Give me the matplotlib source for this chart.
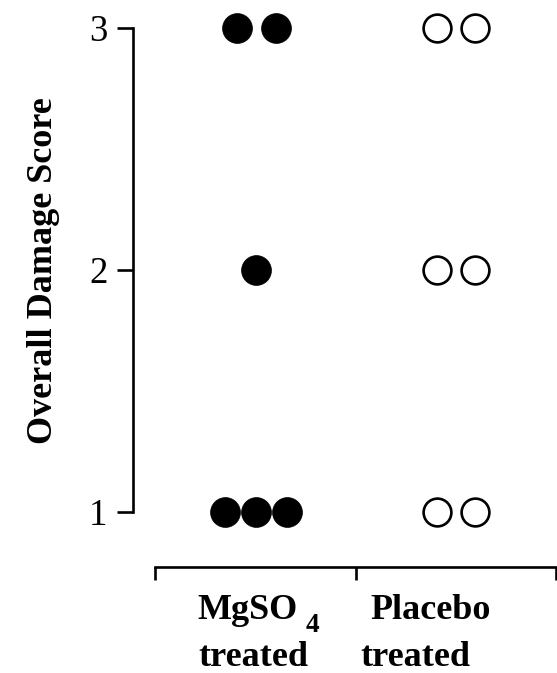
import matplotlib
matplotlib.use("Agg")
import matplotlib.pyplot as plt
import numpy as np

# ---- data ----
groups = ["MgSO", "Placebo"]          # group names (line 1)
group_subscripts = ["4", ""]          # subscript following line 1
group_line2 = ["treated", "treated"]
mg_scores = [3, 3, 2, 1, 1, 1]        # MgSO4 treated (filled)
placebo_scores = [3, 3, 2, 2, 1, 1]   # Placebo treated (open)
y_ticks = [1, 2, 3]
y_label = "Overall Damage Score"

plt.rcParams["font.family"] = ["Liberation Serif", "DejaVu Serif"]

W, H = 557, 673
fig = plt.figure(figsize=(W / 100, H / 100), dpi=100)

def fx(px):
    return px / W

def fy(py):
    return (H - py) / H

# main axes: left spine at x=133, y=3 at py=28, y=1 at py=512
ax = fig.add_axes([fx(133), fy(512), fx(557) - fx(133), fy(28) - fy(512)])
ax.set_ylim(1, 3)
ax.set_xlim(-0.615, 1.505)
for s in ["top", "right", "bottom"]:
    ax.spines[s].set_visible(False)
ax.spines["left"].set_linewidth(1.9)
ax.set_xticks([])
ax.set_yticks(y_ticks)
ax.set_yticklabels([str(t) for t in y_ticks])
ax.tick_params(axis="y", direction="out", length=11.5, width=1.9, pad=7,
               labelsize=26.5)
ax.patch.set_visible(False)


def swarm_x(scores, center):
    scores = np.asarray(scores)
    xs = np.zeros(len(scores), dtype=float)
    for v in np.unique(scores):
        idx = np.where(scores == v)[0]
        n = len(idx)
        step = 0.195 if n <= 2 else 0.153
        offs = (np.arange(n) - (n - 1) / 2) * step
        xs[idx] = center + offs
    return xs

mx = swarm_x(mg_scores, 0)
px_ = swarm_x(placebo_scores, 1)
ax.plot(mx, mg_scores, linestyle="none", marker="o", ms=21.5,
        mfc="black", mec="black", mew=0.5, clip_on=False)
ax.plot(px_, placebo_scores, linestyle="none", marker="o", ms=20,
        mfc="white", mec="black", mew=1.9, clip_on=False)

# bracket axis
bx = fig.add_axes([fx(155), fy(567), fx(556) - fx(155), 0.0001])
bx.set_xlim(0, 2)
bx.set_ylim(0, 1)
for s in ["top", "right", "left"]:
    bx.spines[s].set_visible(False)
bx.spines["bottom"].set_linewidth(1.9)
bx.set_yticks([])
bx.set_xticks([0, 1, 2])
bx.set_xticklabels([])
bx.tick_params(axis="x", direction="out", length=9.5, width=1.9)
bx.patch.set_visible(False)

# category labels
label_kw = dict(fontsize=26, fontweight="bold", ha="left", va="baseline")
line1_x = [197, 370]
line2_x = [198, 360]
for i in range(len(groups)):
    t = fig.text(fx(line1_x[i]), fy(619), groups[i], **label_kw)
    if group_subscripts[i]:
        ax.annotate(group_subscripts[i], xy=(1, 0), xycoords=t,
                    xytext=(6, -3.5), textcoords="offset points",
                    fontsize=19.5, fontweight="bold", ha="left",
                    va="baseline", annotation_clip=False)
    fig.text(fx(line2_x[i]), fy(666), group_line2[i], **label_kw)

# y label
fig.text(fx(44), fy(271), y_label, rotation=90, fontsize=26,
         fontweight="bold", ha="center", va="center")

fig.savefig("out.png", dpi=100)
